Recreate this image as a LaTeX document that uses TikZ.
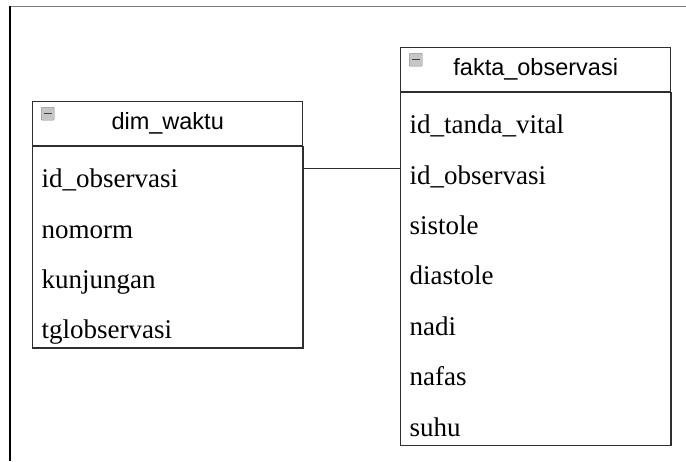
\documentclass[tikz,border=0pt]{standalone}
\usepackage{fontspec}
\usepackage{tikz}
\usetikzlibrary{positioning}
\usetikzlibrary{fit}
\newfontfamily\headfont{Liberation Sans}
\newfontfamily\fieldfont{Liberation Serif}
\definecolor{tblline}{HTML}{2E2E2E}
\definecolor{frametop}{HTML}{7A7A7A}
\tikzset{
    head/.style={
        rectangle,
        draw=tblline,
        line width=1.4pt,
        minimum width=270pt,
        minimum height=44pt,
        inner sep=0pt,
        text centered,
        font=\headfont\fontsize{23.5}{28}\selectfont
    },
    field/.style={
        rectangle,
        text width=252pt,
        inner xsep=9pt,
        inner ysep=0pt,
        text height=41pt,
        text depth=9pt,
        align=left,
        font=\fieldfont\fontsize{27}{32}\selectfont
    },
    body/.style={
        rectangle,
        draw=tblline,
        line width=1.4pt,
        inner sep=0pt
    },
    icon/.style={
        rectangle,
        rounded corners=1pt,
        draw=gray,
        fill=gray!45,
        minimum size=13pt,
        inner sep=0pt,
        path picture={
            \draw[black!75, line width=1.5pt]
                ([xshift=2.5pt]path picture bounding box.west) --
                ([xshift=-2.5pt]path picture bounding box.east);
        }
    },
    conn/.style={
        -,
        line width=1.2pt,
        draw=tblline
    }
}

\begin{document}
\begin{tikzpicture}[x=1pt, y=-1pt]
\useasboundingbox (0,0) rectangle (686,461);

% 0. Frame
\draw[frametop, line width=1pt] (10,6) -- (686,6);
\draw[black, line width=1.2pt] (10,6) -- (10,461);

% 1. dim_waktu
\node[head, anchor=north west] (l0) at (32,101) {dim\_waktu};
\node[icon, below right=6pt and 9pt of l0.north west] (licon) {};
\foreach \txt [count=\i, evaluate=\i as \j using int(\i-1)] in
    {id\_observasi, nomorm, kunjungan, tglobservasi} {
    \node[field, below=0pt of l\j] (l\i) {\txt};
}
\node[body, fit=(l1)(l4)] (lbody) {};

% 2. fakta_observasi
\node[head, anchor=north west] (r0) at (400,47) {fakta\_observasi};
\node[icon, below right=6pt and 9pt of r0.north west] (ricon) {};
\foreach \txt [count=\i, evaluate=\i as \j using int(\i-1)] in
    {id\_tanda\_vital, id\_observasi, sistole, diastole, nadi, nafas, suhu} {
    \node[field, below=0pt of r\j] (r\i) {\txt};
}
\node[body, fit=(r1)(r7)] (rbody) {};

% 3. Relation
\draw[conn] ([yshift=3pt]l1.east) -- ([yshift=3pt]l1.east -| r2.west);

\end{tikzpicture}
\end{document}
